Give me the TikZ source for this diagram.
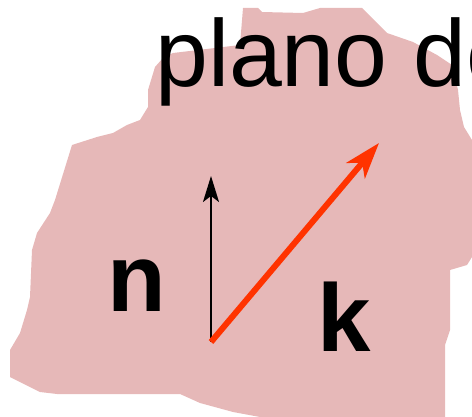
\documentclass[tikz,border=0pt]{standalone}
\usepackage{fontspec}
\setmainfont{Liberation Sans}
\usetikzlibrary{arrows.meta}
\definecolor{blobpink}{HTML}{E6B8B8}
\definecolor{kred}{HTML}{FF3300}
\tikzset{
  blob/.style={fill=blobpink, draw=none},
  bigtext/.style={inner sep=0pt, anchor=base west, font=\fontsize{95}{100}\selectfont},
  veclabel/.style={inner sep=0pt, anchor=base west, font=\fontsize{96}{100}\selectfont\bfseries},
  nvec/.style={line width=2pt, draw=black, -{Stealth[length=26pt,width=16pt,inset=6pt]}},
  kvec/.style={line width=6pt, draw=kred, -{Stealth[length=36pt,width=24pt,inset=10pt]}},
}
\begin{document}
\begin{tikzpicture}[x=1pt,y=-1pt]
\useasboundingbox (0,0) rectangle (472,417);
\fill[blob] (243,8) -- (258,8) -- (262,12) -- (303,13) -- (320,8) -- (362,8) -- (387,33) -- (413,42) -- (437,55) -- (452,65) -- (458,90) -- (460,110) -- (464,127) -- (472,140) -- (472,257) -- (467,265) -- (450,270) -- (450,330) -- (445,345) -- (445,417) -- (260,417) -- (233,412) -- (200,403) -- (180,394) -- (57,394) -- (40,392) -- (10,377) -- (10,350) -- (20,333) -- (27,310) -- (30,297) -- (32,250) -- (37,233) -- (50,213) -- (55,200) -- (72,145) -- (97,137) -- (113,133) -- (127,125) -- (140,120) -- (148,107) -- (148,90) -- (155,67) -- (163,58) -- (173,53) -- (215,48) -- (240,45) -- cycle;
\node[bigtext] (title) at (155,87) {plano de};
\coordinate (o) at (211,342);
\coordinate (ntip) at (211,176);
\coordinate (ktip) at (379,143);
\draw[nvec] (o) -- (ntip);
\draw[kvec] (o) -- (ktip);
\node[veclabel] (nlab) at (107,312) {n};
\node[veclabel] (klab) at (317,352) {k};
\end{tikzpicture}
\end{document}
